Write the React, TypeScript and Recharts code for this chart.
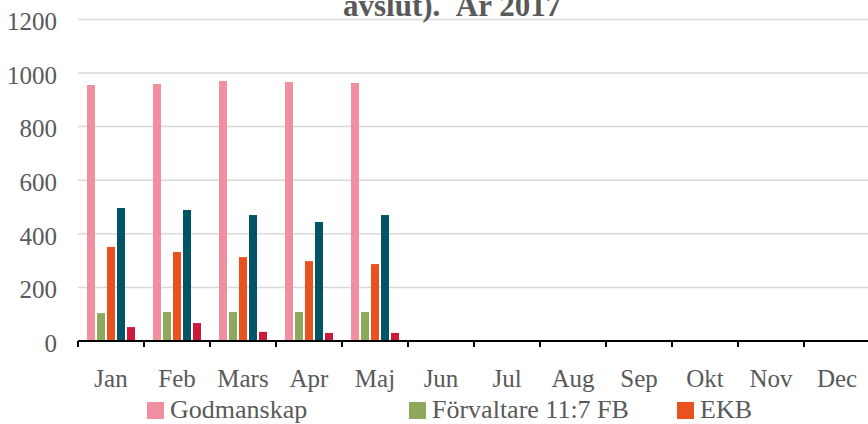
import React from 'react';
import { BarChart, Bar, XAxis, YAxis, CartesianGrid, Legend } from 'recharts';

const months = ['Jan', 'Feb', 'Mars', 'Apr', 'Maj', 'Jun', 'Jul', 'Aug', 'Sep', 'Okt', 'Nov', 'Dec'];
const godmanskap = [955, 959, 970, 966, 963, null, null, null, null, null, null, null];
const forvaltare = [104, 108, 108, 108, 108, null, null, null, null, null, null, null];
const ekb = [351, 332, 313, 298, 287, null, null, null, null, null, null, null];
const forvaltarskap = [496, 489, 470, 444, 470, null, null, null, null, null, null, null];
const ovrigt = [52, 67, 34, 30, 30, null, null, null, null, null, null, null];
const yTicks = [0, 200, 400, 600, 800, 1000, 1200];
const legendNames = ['Godmanskap', 'Förvaltare 11:7 FB', 'EKB'];

const data = months.map((m, i) => ({
  month: m,
  Godmanskap: godmanskap[i],
  'Förvaltare 11:7 FB': forvaltare[i],
  EKB: ekb[i],
  'Förvaltarskap': forvaltarskap[i],
  'Övrigt': ovrigt[i],
}));

const FONT = '"Liberation Serif", "Times New Roman", serif';
const TEXT = '#595959';
const legendWidths = [262, 268, 200];
const X_TICK_MARGIN = 28;

const LegendContent = (props: any) => {
  const payload = props.payload || [];
  const items = legendNames
    .map((n) => payload.find((p: any) => p.value === n || p.dataKey === n))
    .filter(Boolean);
  return (
    <div style={{ height: 38, display: 'flex', paddingLeft: 147, paddingTop: 12, boxSizing: 'border-box', fontFamily: FONT, fontSize: 26, color: TEXT, overflow: 'hidden' }}>
      {items.map((p: any, i: number) => (
        <div key={p.value} style={{ width: legendWidths[i], flexShrink: 0, display: 'flex', alignItems: 'center', height: 24 }}>
          <span style={{ width: 17, height: 17, flexShrink: 0, background: p.color, display: 'inline-block', marginRight: 6 }} />
          <span style={{ lineHeight: '24px', whiteSpace: 'nowrap', fontFamily: FONT }}>{p.value}</span>
        </div>
      ))}
    </div>
  );
};

const MonthTick = (props: any) => {
  const { x, y, payload, index, visibleTicksCount } = props;
  const off = payload && payload.offset ? payload.offset : 0;
  const axisY = y - X_TICK_MARGIN;
  const isLast = index === (visibleTicksCount || months.length) - 1;
  return (
    <g>
      {off > 0 && <line x1={x - off} x2={x - off} y1={axisY} y2={axisY + 6} stroke="#000" strokeWidth={2} />}
      {off > 0 && isLast && <line x1={x + off} x2={x + off} y1={axisY} y2={axisY + 6} stroke="#000" strokeWidth={2} />}
      <text x={x} y={y} dy="0.71em" textAnchor="middle" fill={TEXT} fontSize={25} fontFamily={FONT}>
        {payload.value}
      </text>
    </g>
  );
};

export default function App() {
  return (
    <div style={{ position: 'absolute', left: 0, top: 0, width: 868, height: 424, overflow: 'hidden', background: '#fff', fontFamily: FONT }}>
      <BarChart
        width={880}
        height={424}
        data={data}
        margin={{ top: 19.4, right: 10, bottom: 0, left: 0 }}
        barSize={8}
        barGap={2}
        style={{ fontFamily: FONT }}
      >
        <CartesianGrid vertical={false} stroke="#d9d9d9" strokeWidth={1.5} />
        <XAxis
          dataKey="month"
          height={45}
          axisLine={{ stroke: '#000', strokeWidth: 2 }}
          tickLine={false}
          tickSize={0}
          tickMargin={X_TICK_MARGIN}
          interval={0}
          tick={<MonthTick />}
        />
        <YAxis
          width={78}
          domain={[0, 1200]}
          ticks={yTicks}
          axisLine={false}
          tickLine={false}
          tickSize={0}
          tickMargin={21}
          tick={{ fill: TEXT, fontSize: 25, fontFamily: FONT, dy: 2 }}
        />
        <Legend verticalAlign="bottom" content={<LegendContent />} wrapperStyle={{ left: 0, width: 868 }} />
        <Bar dataKey="Godmanskap" fill="#F18FA1" isAnimationActive={false} />
        <Bar dataKey="Förvaltare 11:7 FB" fill="#8EA95B" isAnimationActive={false} />
        <Bar dataKey="EKB" fill="#E9521E" isAnimationActive={false} />
        <Bar dataKey="Förvaltarskap" fill="#005465" isAnimationActive={false} legendType="none" />
        <Bar dataKey="Övrigt" fill="#CD1A3B" isAnimationActive={false} legendType="none" />
      </BarChart>
      <div
        style={{
          position: 'absolute',
          left: 343,
          top: -10,
          fontFamily: FONT,
          fontWeight: 'bold',
          fontSize: 31,
          lineHeight: '31px',
          color: TEXT,
          whiteSpace: 'pre',
        }}
      >
        avslut).  År 2017
      </div>
    </div>
  );
}
